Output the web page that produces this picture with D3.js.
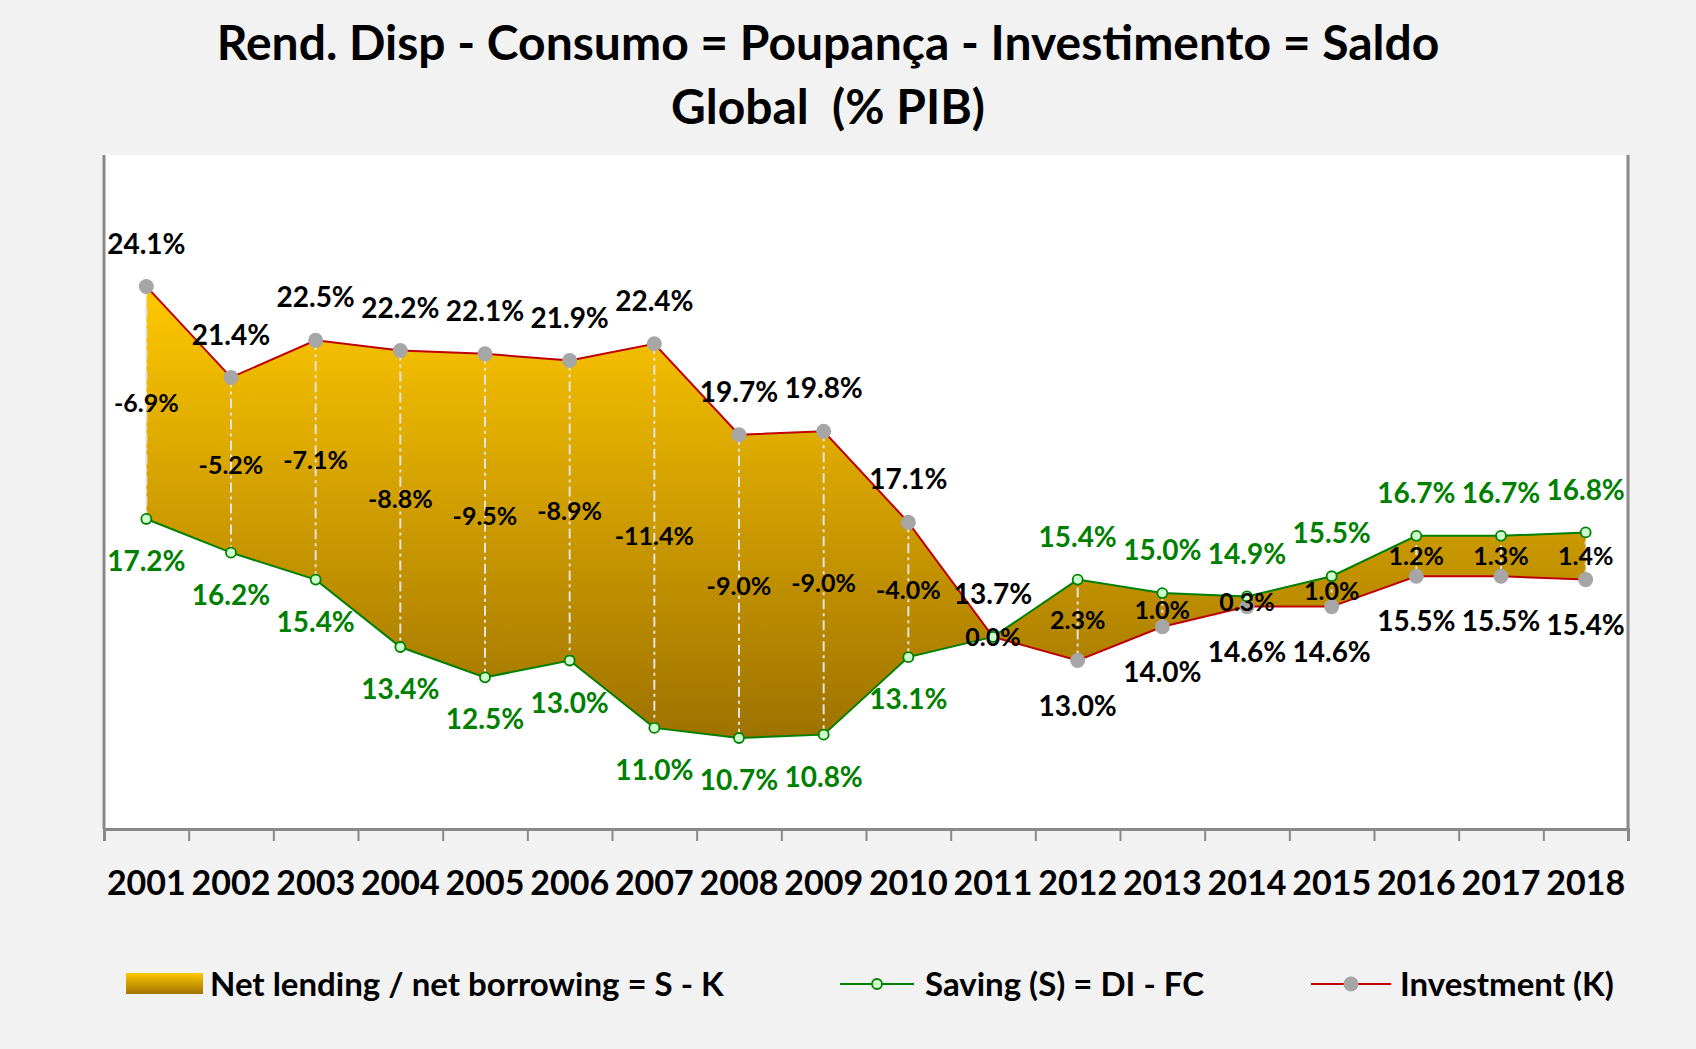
<!DOCTYPE html>
<html>
<head>
<meta charset="utf-8">
<script src="https://cdn.jsdelivr.net/npm/d3@7"></script>
<style>
  body { margin: 0; background: #f2f2f2; }
  svg { display: block; font-family: Lato, "Open Sans", sans-serif; }
</style>
</head>
<body>
<svg width="1696" height="1049"></svg>
<script>
// dados (% PIB)
var years = ["2001","2002","2003","2004","2005","2006","2007","2008","2009","2010","2011","2012","2013","2014","2015","2016","2017","2018"];
var saving = [17.2, 16.2, 15.4, 13.4, 12.5, 13.0, 11.0, 10.7, 10.8, 13.1, 13.7, 15.4, 15.0, 14.9, 15.5, 16.7, 16.7, 16.8];
var investment = [24.1, 21.4, 22.5, 22.2, 22.1, 21.9, 22.4, 19.7, 19.8, 17.1, 13.7, 13.0, 14.0, 14.6, 14.6, 15.5, 15.5, 15.4];
var netLending = [-6.9, -5.2, -7.1, -8.8, -9.5, -8.9, -11.4, -9.0, -9.0, -4.0, 0.0, 2.3, 1.0, 0.3, 1.0, 1.2, 1.3, 1.4];

var svg = d3.select("svg"),
    width = +svg.attr("width"),
    height = +svg.attr("height");

var plotLeft = 104, plotRight = 1628, plotTop = 155, plotBottom = 829;

var data = years.map(function(y, i) {
  return {year: y, s: saving[i], k: investment[i], net: netLending[i]};
});

var x = d3.scaleBand().domain(years).range([plotLeft, plotRight]).padding(0);
var xEdge = d3.scaleLinear().domain([0, years.length]).range([plotLeft, plotRight]);
var y = d3.scaleLinear().domain([8, 28]).range([plotBottom, plotTop]);
function cx(d) { return x(d.year) + x.bandwidth() / 2; }

svg.append("rect").attr("width", width).attr("height", height).attr("fill", "#f2f2f2");

// gradiente do preenchimento
var defs = svg.append("defs");
var grad = defs.append("linearGradient")
    .attr("id", "gold")
    .attr("gradientUnits", "userSpaceOnUse")
    .attr("x1", 0).attr("x2", 0)
    .attr("y1", y(d3.max(investment))).attr("y2", y(d3.min(saving)));
grad.append("stop").attr("offset", "0%").attr("stop-color", "#ffc800");
grad.append("stop").attr("offset", "100%").attr("stop-color", "#9e7200");
var grad2 = defs.append("linearGradient")
    .attr("id", "goldLegend").attr("x1", 0).attr("x2", 0).attr("y1", 0).attr("y2", 1);
grad2.append("stop").attr("offset", "0%").attr("stop-color", "#ffc800");
grad2.append("stop").attr("offset", "100%").attr("stop-color", "#a07400");

// area do grafico
svg.append("rect")
    .attr("x", plotLeft).attr("y", plotTop)
    .attr("width", plotRight - plotLeft).attr("height", plotBottom - plotTop)
    .attr("fill", "#ffffff");

// titulo
var title = svg.append("text")
    .attr("text-anchor", "middle")
    .attr("font-weight", "bold")
    .attr("font-size", 48)
    .attr("fill", "#000");
title.append("tspan").attr("x", 828).attr("y", 60).text("Rend. Disp - Consumo = Poupança - Investimento = Saldo");
title.append("tspan").attr("x", 828).attr("y", 124).attr("xml:space", "preserve").text("Global  (% PIB)");

// area S - K
var area = d3.area()
    .x(cx)
    .y0(function(d) { return y(d.s); })
    .y1(function(d) { return y(d.k); });

svg.append("path")
    .datum(data)
    .attr("d", area)
    .attr("fill", "url(#gold)");

// linhas de queda
svg.append("g")
  .selectAll("line")
  .data(data)
  .enter().append("line")
    .attr("x1", cx).attr("x2", cx)
    .attr("y1", function(d) { return y(d.k); })
    .attr("y2", function(d) { return y(d.s); })
    .attr("stroke", "#e3e3e3")
    .attr("stroke-width", 2)
    .attr("stroke-dasharray", "10,4,3,4");

var line = d3.line().x(cx);

svg.append("path")
    .datum(data)
    .attr("d", line.y(function(d) { return y(d.k); }))
    .attr("fill", "none")
    .attr("stroke", "#c00000")
    .attr("stroke-width", 2);

svg.append("path")
    .datum(data)
    .attr("d", line.y(function(d) { return y(d.s); }))
    .attr("fill", "none")
    .attr("stroke", "#008000")
    .attr("stroke-width", 2);

// marcadores
svg.append("g")
  .selectAll("circle")
  .data(data)
  .enter().append("circle")
    .attr("cx", cx)
    .attr("cy", function(d) { return y(d.k); })
    .attr("r", 7.5)
    .attr("fill", "#a6a6a6");

svg.append("g")
  .selectAll("circle")
  .data(data)
  .enter().append("circle")
    .attr("cx", cx)
    .attr("cy", function(d) { return y(d.s); })
    .attr("r", 5)
    .attr("fill", "#ccffcc")
    .attr("stroke", "#008000")
    .attr("stroke-width", 1.8);

// eixos
svg.append("line")
    .attr("x1", plotLeft).attr("x2", plotLeft).attr("y1", plotTop).attr("y2", plotBottom)
    .attr("stroke", "#898989").attr("stroke-width", 3);
svg.append("line")
    .attr("x1", plotRight).attr("x2", plotRight).attr("y1", plotTop).attr("y2", plotBottom)
    .attr("stroke", "#898989").attr("stroke-width", 3);

var xAxis = svg.append("g")
    .attr("transform", "translate(0," + plotBottom + ")")
    .call(d3.axisBottom(xEdge).ticks(years.length).tickSize(12).tickFormat("").tickSizeOuter(12));
xAxis.select(".domain").attr("stroke", "#898989").attr("stroke-width", 3);
xAxis.selectAll(".tick line").attr("stroke", "#898989").attr("stroke-width", 2);

var yearAxis = svg.append("g")
    .attr("transform", "translate(0," + plotBottom + ")")
    .call(d3.axisBottom(x).tickSize(0).tickPadding(42));
yearAxis.select(".domain").remove();
yearAxis.selectAll("text")
    .attr("font-family", "Lato, sans-serif")
    .attr("font-size", 34)
    .attr("font-weight", "bold")
    .attr("fill", "#000");

// rotulos
var fmt = function(v) { return v.toFixed(1) + "%"; };
var labels = svg.append("g")
    .attr("font-size", 28)
    .attr("font-weight", "bold")
    .attr("text-anchor", "middle");

labels.selectAll(".lk")
  .data(data)
  .enter().append("text")
    .attr("x", cx)
    .attr("y", function(d) { return y(d.k) + (d.k >= d.s ? -43 : 45); })
    .attr("dy", "0.36em")
    .attr("fill", "#000")
    .text(function(d) { return fmt(d.k); });

labels.selectAll(".ls")
  .data(data.filter(function(d) { return d.s !== d.k; }))
  .enter().append("text")
    .attr("x", cx)
    .attr("y", function(d) { return y(d.s) + (d.s < d.k ? 42 : -43); })
    .attr("dy", "0.36em")
    .attr("fill", "#008000")
    .text(function(d) { return fmt(d.s); });

labels.selectAll(".ln")
  .data(data)
  .enter().append("text")
    .attr("x", cx)
    .attr("y", function(d) { return (y(d.s) + y(d.k)) / 2; })
    .attr("dy", "0.36em")
    .attr("fill", "#000")
    .attr("font-size", 25)
    .text(function(d) { return fmt(d.net); });

// legenda
var legend = svg.append("g").attr("font-size", 33).attr("font-weight", "bold");
legend.append("rect")
    .attr("x", 126).attr("y", 973).attr("width", 77).attr("height", 21)
    .attr("fill", "url(#goldLegend)");
legend.append("text").attr("x", 210).attr("y", 984).attr("dy", "0.36em")
    .text("Net lending / net borrowing = S - K");

legend.append("line").attr("x1", 840).attr("x2", 914).attr("y1", 984).attr("y2", 984)
    .attr("stroke", "#008000").attr("stroke-width", 2);
legend.append("circle").attr("cx", 877).attr("cy", 984).attr("r", 5)
    .attr("fill", "#ccffcc").attr("stroke", "#008000").attr("stroke-width", 1.8);
legend.append("text").attr("x", 925).attr("y", 984).attr("dy", "0.36em")
    .text("Saving (S) = DI - FC");

legend.append("line").attr("x1", 1311).attr("x2", 1391).attr("y1", 984).attr("y2", 984)
    .attr("stroke", "#c00000").attr("stroke-width", 2);
legend.append("circle").attr("cx", 1351).attr("cy", 984).attr("r", 7.5)
    .attr("fill", "#a6a6a6");
legend.append("text").attr("x", 1400).attr("y", 984).attr("dy", "0.36em")
    .text("Investment (K)");
</script>
</body>
</html>
